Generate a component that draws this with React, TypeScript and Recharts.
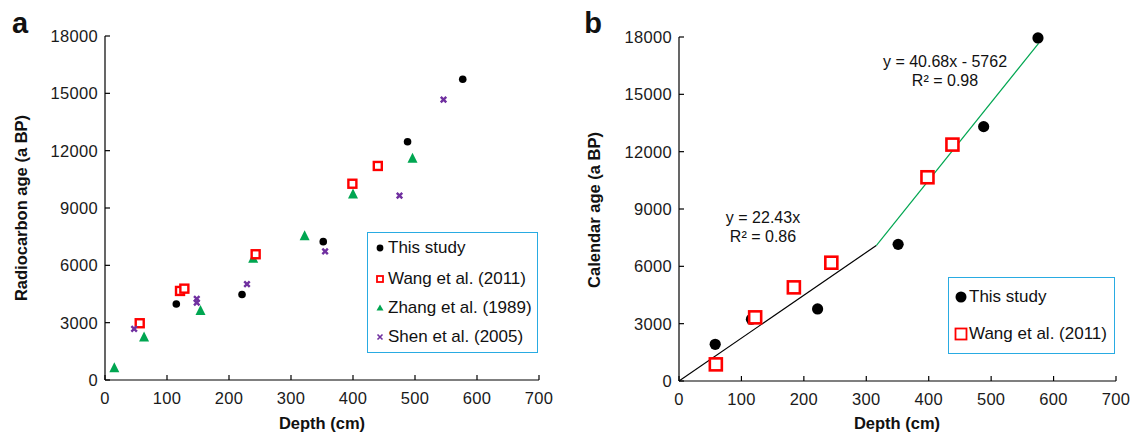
import { ScatterChart, Scatter, XAxis, YAxis, Legend } from "recharts";

const depthTicks = [0, 100, 200, 300, 400, 500, 600, 700];
const ageTicks = [0, 3000, 6000, 9000, 12000, 15000, 18000];

// panel a: radiocarbon ages
const thisStudyRc = [
  { depth: 115, age: 3980 },
  { depth: 221, age: 4470 },
  { depth: 352, age: 7240 },
  { depth: 488, age: 12470 },
  { depth: 577, age: 15740 },
];
const wangRc = [
  { depth: 56, age: 2970 },
  { depth: 121, age: 4660 },
  { depth: 128, age: 4780 },
  { depth: 243, age: 6580 },
  { depth: 399, age: 10270 },
  { depth: 440, age: 11200 },
];
const zhangRc = [
  { depth: 15, age: 610 },
  { depth: 63, age: 2230 },
  { depth: 154, age: 3610 },
  { depth: 239, age: 6350 },
  { depth: 322, age: 7520 },
  { depth: 400, age: 9700 },
  { depth: 496, age: 11580 },
];
const shenRc = [
  { depth: 47, age: 2670 },
  { depth: 148, age: 4250 },
  { depth: 148, age: 4050 },
  { depth: 229, age: 5020 },
  { depth: 355, age: 6730 },
  { depth: 475, age: 9650 },
  { depth: 546, age: 14670 },
];

// panel b: calendar ages
const thisStudyCal = [
  { depth: 58, age: 1920 },
  { depth: 116, age: 3230 },
  { depth: 222, age: 3770 },
  { depth: 351, age: 7150 },
  { depth: 488, age: 13310 },
  { depth: 575, age: 17950 },
];
const wangCal = [
  { depth: 59, age: 870 },
  { depth: 122, age: 3330 },
  { depth: 184, age: 4900 },
  { depth: 244, age: 6190 },
  { depth: 398, age: 10660 },
  { depth: 438, age: 12370 },
];
const fitLow = [
  { depth: 0, age: 0 },
  { depth: 316, age: 7090 },
];
const fitHigh = [
  { depth: 316, age: 7090 },
  { depth: 576, age: 17670 },
];

const FONT = "'Liberation Sans', Arial, Helvetica, sans-serif";
const RED = "#ff0000";
const GREEN = "#00a651";
const PURPLE = "#7030a0";
const BLUE = "#29abe2";

const dot = (r: number) => (p: any) => <circle cx={p.cx} cy={p.cy} r={r} fill="#000" />;
const square = (s: number, w: number) => (p: any) => (
  <rect x={p.cx - s / 2} y={p.cy - s / 2} width={s} height={s} fill="#fff" stroke={RED} strokeWidth={w} />
);
const triangle = (s: number) => (p: any) => (
  <polygon
    points={`${p.cx},${p.cy - s * 0.6} ${p.cx - s / 2},${p.cy + s * 0.4} ${p.cx + s / 2},${p.cy + s * 0.4}`}
    fill={GREEN}
  />
);
const cross = (s: number) => (p: any) => (
  <path
    d={`M${p.cx - s / 2},${p.cy - s / 2}L${p.cx + s / 2},${p.cy + s / 2}M${p.cx - s / 2},${p.cy + s / 2}L${p.cx + s / 2},${p.cy - s / 2}`}
    stroke={PURPLE}
    strokeWidth={2.4}
  />
);
const none = () => <g />;

const tickStyle = { fill: "#1a1a1a", fontSize: 16.5, fontFamily: FONT, letterSpacing: 0.3 };

const axes = (
  <>
    <XAxis
      type="number"
      dataKey="depth"
      domain={[0, 700]}
      ticks={depthTicks}
      interval={0}
      height={30}
      tickSize={-5}
      tickMargin={17}
      tick={tickStyle}
      stroke="#000"
      strokeWidth={1.2}
    />
    <YAxis
      type="number"
      dataKey="age"
      domain={[0, 18000]}
      ticks={ageTicks}
      interval={0}
      width={60}
      tickSize={-5}
      tickMargin={12}
      tick={tickStyle}
      stroke="#000"
      strokeWidth={1.2}
    />
  </>
);

const legendBox = (left: number, top: number, width: number, height: number) => ({
  position: "absolute" as const,
  left,
  top,
  width,
  height,
  border: `1.5px solid ${BLUE}`,
  boxSizing: "border-box" as const,
  background: "#fff",
});

const LegendRow = ({ icon, label, top }: { icon: any; label: string; top: number }) => (
  <div style={{ position: "absolute", left: 0, top, height: 20, display: "flex", alignItems: "center" }}>
    <svg width={20} height={20} style={{ marginLeft: 2 }}>{icon}</svg>
    <span style={{ fontSize: 17, fontFamily: FONT, color: "#111", marginLeft: -2, whiteSpace: "nowrap" }}>{label}</span>
  </div>
);

const legendA = () => (
  <div style={{ position: "relative", width: 168, height: 118 }}>
    <LegendRow top={4.5} label="This study" icon={<circle cx={10} cy={10} r={3.4} fill="#000" />} />
    <LegendRow top={35.5} label="Wang et al. (2011)" icon={<rect x={7} y={7} width={6} height={6} fill="#fff" stroke={RED} strokeWidth={1.8} />} />
    <LegendRow top={64.5} label="Zhang et al. (1989)" icon={<polygon points="10,6.5 6.5,12.5 13.5,12.5" fill={GREEN} />} />
    <LegendRow top={93.5} label="Shen et al. (2005)" icon={<path d="M7.5,7.5L12.5,12.5M7.5,12.5L12.5,7.5" stroke={PURPLE} strokeWidth={1.6} />} />
  </div>
);

const legendB = () => (
  <div style={{ position: "relative", width: 164, height: 74 }}>
    <LegendRow top={8.5} label="This study" icon={<circle cx={10} cy={10} r={5.5} fill="#000" />} />
    <LegendRow top={45.5} label="Wang et al. (2011)" icon={<rect x={4.5} y={4.5} width={11} height={11} fill="#fff" stroke={RED} strokeWidth={1.8} />} />
  </div>
);

const textAt = (left: number, top: number, size: number, bold: boolean, rotate = 0) => ({
  position: "absolute" as const,
  left,
  top,
  transform: `translate(-50%, -50%) rotate(${rotate}deg)`,
  whiteSpace: "nowrap" as const,
  fontFamily: FONT,
  fontSize: size,
  fontWeight: bold ? 700 : 400,
  color: "#111",
  lineHeight: 1,
});

export default function App() {
  return (
    <div style={{ position: "absolute", left: 0, top: 0, width: 1132, height: 435, background: "#fff", fontFamily: FONT }}>
      <div style={{ position: "absolute", left: 0, top: 0 }}>
        <ScatterChart width={560} height={435} margin={{ top: 36, right: 21, bottom: 25, left: 45 }}>
          {axes}
          <Legend
            layout="vertical"
            align="center"
            verticalAlign="middle"
            content={legendA}
            wrapperStyle={legendBox(367, 232, 171, 121)}
          />
          <Scatter data={zhangRc} shape={triangle(10)} isAnimationActive={false} />
          <Scatter data={wangRc} shape={square(8, 2.4)} isAnimationActive={false} />
          <Scatter data={thisStudyRc} shape={dot(3.8)} isAnimationActive={false} />
          <Scatter data={shenRc} shape={cross(5.5)} isAnimationActive={false} />
        </ScatterChart>
      </div>
      <div style={{ position: "absolute", left: 574, top: 0 }}>
        <ScatterChart width={558} height={435} margin={{ top: 37, right: 16, bottom: 24, left: 45 }}>
          {axes}
          <Legend
            layout="vertical"
            align="center"
            verticalAlign="middle"
            content={legendB}
            wrapperStyle={legendBox(374, 277, 167, 77)}
          />
          <Scatter data={fitLow} line={{ stroke: "#000", strokeWidth: 1.2 }} shape={none} isAnimationActive={false} />
          <Scatter data={fitHigh} line={{ stroke: GREEN, strokeWidth: 1.2 }} shape={none} isAnimationActive={false} />
          <Scatter data={thisStudyCal} shape={dot(5.6)} isAnimationActive={false} />
          <Scatter data={wangCal} shape={square(12, 2.6)} isAnimationActive={false} />
        </ScatterChart>
      </div>

      <div style={textAt(20, 23, 29, true)}>a</div>
      <div style={textAt(593, 23, 29, true)}>b</div>
      <div style={textAt(21, 208, 16.5, true, -90)}>Radiocarbon age (a BP)</div>
      <div style={textAt(594, 210, 16.5, true, -90)}>Calendar age (a BP)</div>
      <div style={textAt(322, 423, 16.5, true)}>Depth (cm)</div>
      <div style={textAt(897, 423, 16.5, true)}>Depth (cm)</div>

      <div style={textAt(763, 218, 16, false)}>y = 22.43x</div>
      <div style={textAt(763, 237, 16, false)}>R² = 0.86</div>
      <div style={textAt(945, 62, 16, false)}>y = 40.68x - 5762</div>
      <div style={textAt(945, 81, 16, false)}>R² = 0.98</div>
    </div>
  );
}
